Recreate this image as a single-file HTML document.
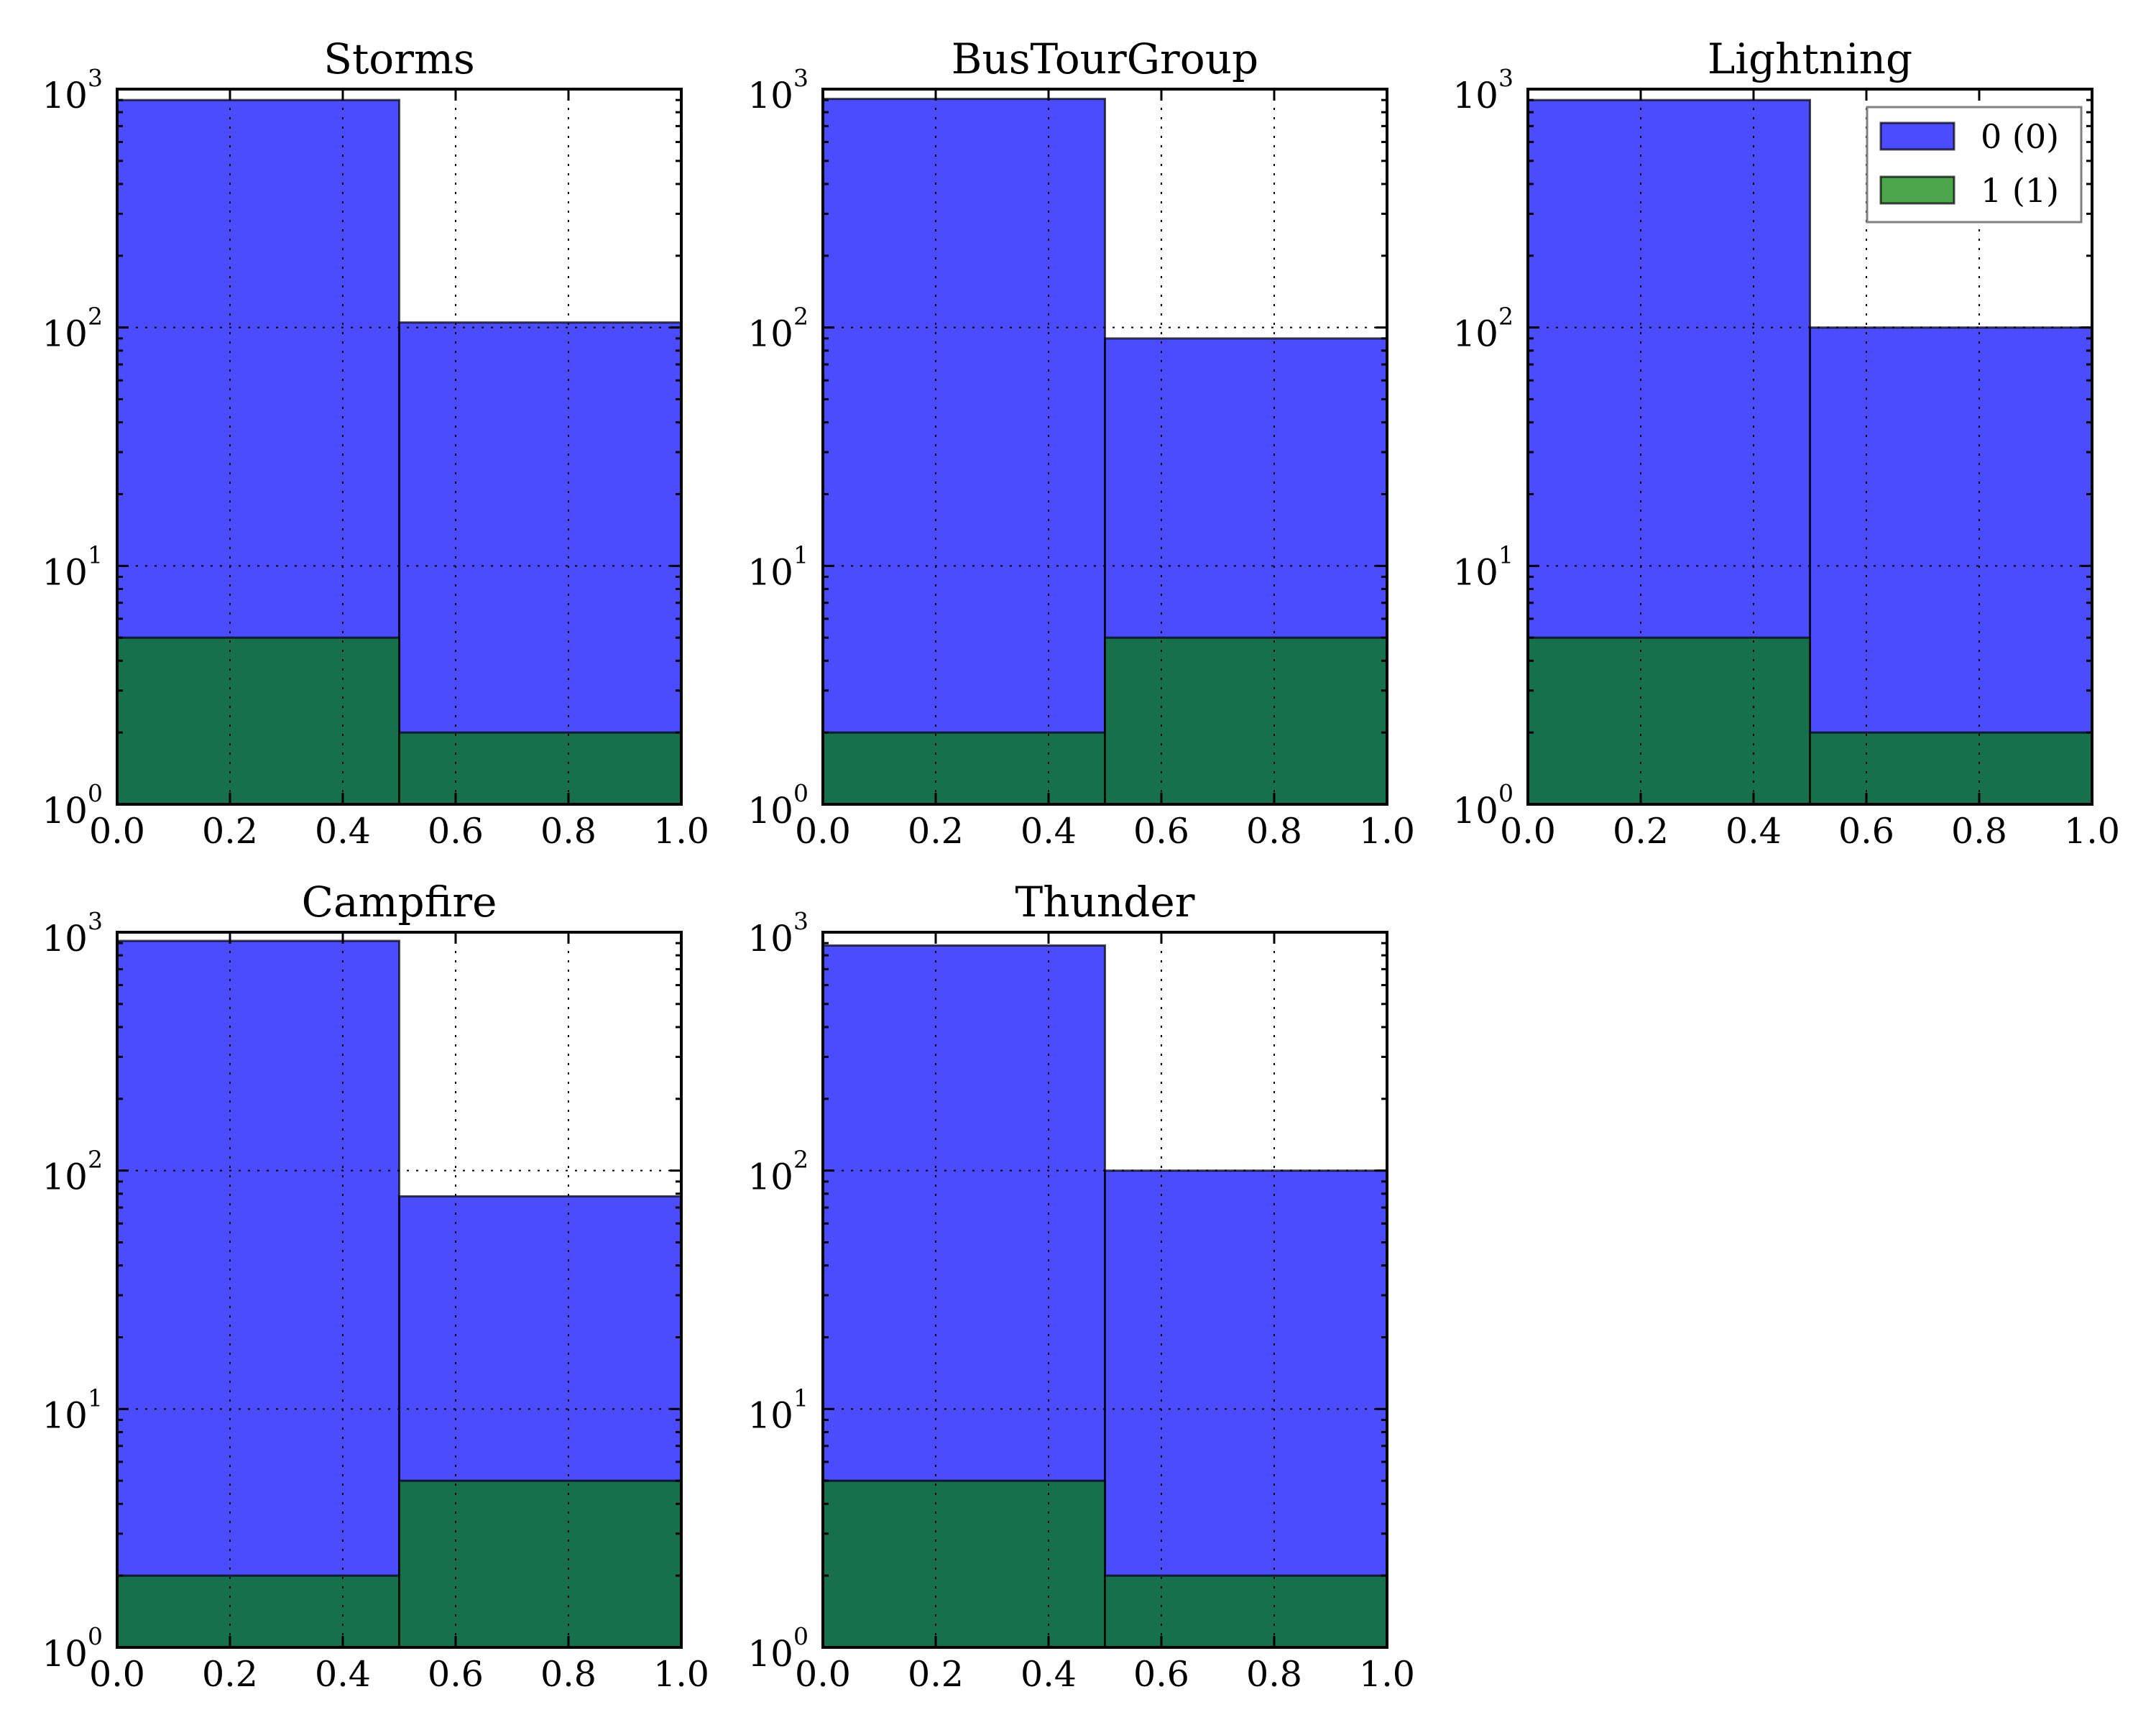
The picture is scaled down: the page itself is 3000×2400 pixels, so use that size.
<!DOCTYPE html>
<html><head><meta charset="utf-8"><style>
html,body{margin:0;padding:0;background:#fff;}
svg{display:block;font-family:"DejaVu Serif","Liberation Serif",serif;}
</style></head><body>
<svg id="fig" width="3000" height="2400" viewBox="0 0 3000 2400" xmlns="http://www.w3.org/2000/svg"></svg>
<script>
const titles = ["Storms","BusTourGroup","Lightning","Campfire","Thunder"];
const binEdges = [0, 0.5, 1.0];
const class0Counts = [[900,105],[910,90],[900,100],[920,78],[880,100]];
const class1Counts = [[5,2],[2,5],[5,2],[2,5],[5,2]];
const xTicks = [0,0.2,0.4,0.6,0.8,1.0];
const xTickLabels = ["0.0","0.2","0.4","0.6","0.8","1.0"];
const yDecades = [0,1,2,3];
const legendLabels = ["0 (0)","1 (1)"];

const NS="http://www.w3.org/2000/svg";
const svg=document.getElementById('fig');
const lefts=[163,1145,2126], tops=[124,1297];
const W=785, H=995;
function mk(tag,attrs,parent){const e=document.createElementNS(NS,tag);for(const k in attrs)e.setAttribute(k,attrs[k]);(parent||svg).appendChild(e);return e;}

titles.forEach((t,i)=>{
  const x0=lefts[i%3], y0=tops[Math.floor(i/3)];
  const g=mk('g',{});
  
  
  const sx=v=>x0+v*W;
  const sy=v=>y0+H-(Math.log10(v)/3)*H;
  const series=[[class0Counts[i],'#0000ff'],[class1Counts[i],'#008000']];
  series.forEach(([vals,col],si)=>{
    for(let b=0;b<vals.length;b++){
      const r=mk('rect',{x:sx(binEdges[b]),y:sy(vals[b]),width:sx(binEdges[b+1])-sx(binEdges[b]),height:sy(1)-sy(vals[b]),fill:col,'fill-opacity':0.7,stroke:'#000','stroke-opacity':0.7,'stroke-width':3},g);
      
      
    }
  });
  xTicks.forEach(v=>{const l=mk('line',{x1:sx(v),x2:sx(v),y1:y0,y2:y0+H,stroke:'#000','stroke-width':2,'stroke-dasharray':'3,10'},g);
    });
  yDecades.forEach(d=>{const y=sy(Math.pow(10,d));const l=mk('line',{x1:x0,x2:x0+W,y1:y,y2:y,stroke:'#000','stroke-width':2,'stroke-dasharray':'3,10'},g);
    });
  xTicks.forEach((v,k)=>{
    mk('line',{x1:sx(v),x2:sx(v),y1:y0+H,y2:y0+H-16,stroke:'#000','stroke-width':3},g);
    mk('line',{x1:sx(v),x2:sx(v),y1:y0,y2:y0+16,stroke:'#000','stroke-width':3},g);
    const tx=mk('text',{x:sx(v),y:y0+H+54,'font-size':49,'text-anchor':'middle',fill:'#000'},g);
    tx.textContent=xTickLabels[k];
    
  });
  for(let d=0;d<3;d++){for(let m=2;m<=9;m++){const y=sy(m*Math.pow(10,d));
    mk('line',{x1:x0,x2:x0+8,y1:y,y2:y,stroke:'#000','stroke-width':3},g);
    mk('line',{x1:x0+W,x2:x0+W-8,y1:y,y2:y,stroke:'#000','stroke-width':3},g);}}
  yDecades.forEach(d=>{const y=sy(Math.pow(10,d));
    mk('line',{x1:x0,x2:x0+16,y1:y,y2:y,stroke:'#000','stroke-width':3},g);
    mk('line',{x1:x0+W,x2:x0+W-16,y1:y,y2:y,stroke:'#000','stroke-width':3},g);
    const tx=mk('text',{x:x0-41,y:y+26,'font-size':50,'text-anchor':'end',fill:'#000'},g);
    tx.textContent='10';
    
    const sup=mk('text',{x:x0-41,y:y-4,'font-size':33,'text-anchor':'start',fill:'#000'},g);
    sup.textContent=String(d);
  });
  const fr=mk('rect',{x:x0,y:y0,width:W,height:H,fill:'none',stroke:'#000','stroke-width':4},g);
  
  const tt=mk('text',{x:x0+W/2,y:y0-22,'font-size':58,'text-anchor':'middle',fill:'#000'},g);
  tt.textContent=t;
  
  if(i===2){
    const lg=mk('g',{},g);
    
    mk('rect',{x:2598,y:149,width:298,height:160,fill:'#fff',stroke:'#808080','stroke-width':3},lg);
    const cols=['#0000ff','#008000'];
    legendLabels.forEach((lab,k)=>{
      const py=171+k*75;
      const p=mk('rect',{x:2617,y:py,width:102,height:37,fill:cols[k],'fill-opacity':0.7,stroke:'#000','stroke-opacity':0.7,'stroke-width':3},lg);
      
      const lt=mk('text',{x:2756,y:py+35,'font-size':46,fill:'#000'},lg);
      lt.textContent=lab;
      
    });
  }
});
</script>
</body></html>
